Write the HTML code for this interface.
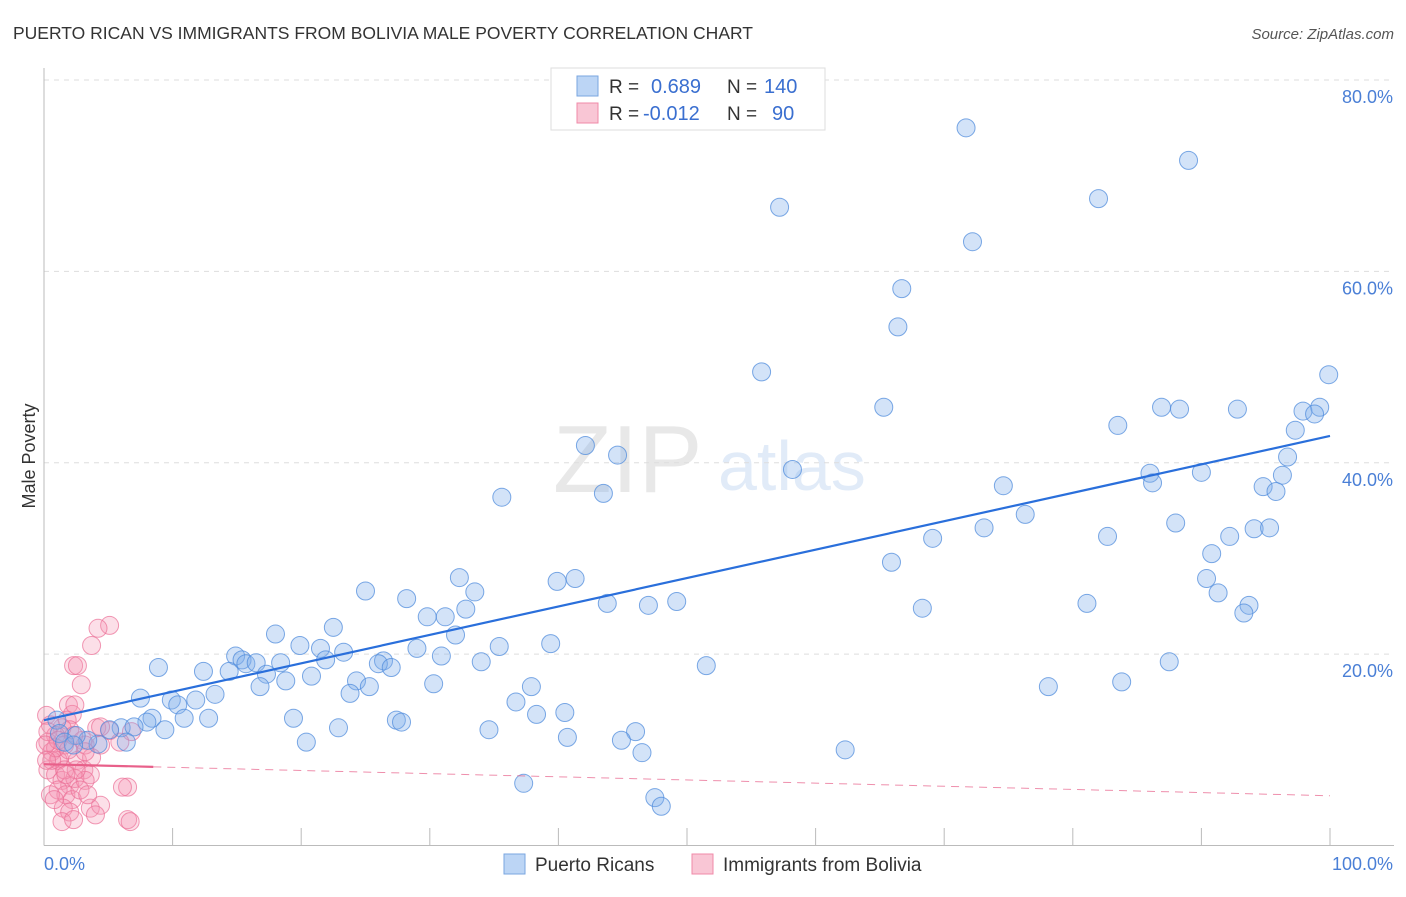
<!DOCTYPE html>
<html><head><meta charset="utf-8"><style>
body{margin:0;background:#fff;font-family:"Liberation Sans",sans-serif}
svg text{font-family:"Liberation Sans",sans-serif}
</style></head><body>
<svg width="1406" height="892" viewBox="0 0 1406 892">
<text x="13" y="39" font-size="17.5" fill="#333">PUERTO RICAN VS IMMIGRANTS FROM BOLIVIA MALE POVERTY CORRELATION CHART</text>
<text x="1394" y="39" font-size="15" fill="#555" font-style="italic" text-anchor="end">Source: ZipAtlas.com</text>
<g opacity="0.22">
<text x="553" y="492" font-size="96" font-family="Liberation Serif,serif" fill="#999">ZIP</text>
<text x="718" y="490" font-size="70" fill="#7aa6e0">atlas</text>
</g>
<g id="grid"></g>
<g id="axes"></g>
<g id="pink"></g>
<g id="blue"></g>
<g id="trends"></g>
<text x="35" y="456" font-size="18" fill="#333" text-anchor="middle" transform="rotate(-90 35 456)">Male Poverty</text>
<g>
<rect x="551" y="68" width="274" height="62" fill="#fff" stroke="#ddd"/>
<rect x="577" y="76" width="21" height="20" fill="#bcd5f5" stroke="#7aa6e0"/>
<rect x="577" y="103" width="21" height="20" fill="#f9c6d5" stroke="#f08aa8"/>
<text x="609" y="93" font-size="19" fill="#333">R =</text>
<text x="651" y="93" font-size="20" fill="#3a6fd0">0.689</text>
<text x="727" y="93" font-size="19" fill="#333">N =</text>
<text x="764" y="93" font-size="20" fill="#3a6fd0">140</text>
<text x="609" y="120" font-size="19" fill="#333">R =</text>
<text x="643" y="120" font-size="20" fill="#3a6fd0">-0.012</text>
<text x="727" y="120" font-size="19" fill="#333">N =</text>
<text x="772" y="120" font-size="20" fill="#3a6fd0">90</text>
</g>
<g>
<rect x="504" y="854" width="21" height="20" fill="#bcd5f5" stroke="#7aa6e0"/>
<text x="535" y="871" font-size="19" fill="#333">Puerto Ricans</text>
<rect x="692" y="854" width="21" height="20" fill="#f9c6d5" stroke="#f08aa8"/>
<text x="723" y="871" font-size="19" fill="#333">Immigrants from Bolivia</text>
</g>
</svg>
<script>
const yTicks=[20,40,60,80];
const yTickLabels=["20.0%","40.0%","60.0%","80.0%"];
const xTicks=[10,20,30,40,50,60,70,80,90,100];
const xEndLabels=["0.0%","100.0%"];
const blueX=[71.7,89.0,57.2,82.0,72.2,66.7,66.4,55.8,99.9,65.3,86.9,88.3,92.8,97.9,99.2,98.8,83.5,97.3,96.7,42.1,44.6,58.2,86.0,90.0,96.3,94.8,86.2,95.8,74.6,35.6,43.5,76.3,88.0,73.1,94.1,95.3,69.1,82.7,92.2,90.8,65.9,25.0,32.3,33.5,39.9,41.3,90.4,91.3,28.2,43.8,47.0,49.2,81.1,93.7,68.3,93.3,32.8,31.2,29.8,18.0,22.5,32.0,19.9,21.5,29.0,35.4,39.4,8.9,14.9,15.4,15.7,16.5,18.4,23.3,21.9,26.4,26.0,30.9,34.0,51.5,87.5,12.4,14.4,17.3,18.8,20.8,24.3,27.0,16.8,23.8,25.3,30.3,37.9,7.5,9.9,10.4,11.8,13.3,78.1,83.8,36.7,8.4,8.0,10.9,12.8,19.4,27.4,27.8,38.3,40.5,9.4,6.0,7.0,5.1,22.9,34.6,46.0,40.7,44.9,20.4,6.4,4.2,3.4,2.5,1.0,1.2,1.6,2.3,62.3,46.5,37.3,47.5,48.0];
const blueY=[75.0,71.6,66.7,67.6,63.1,58.2,54.2,49.5,49.2,45.8,45.8,45.6,45.6,45.4,45.8,45.1,43.9,43.4,40.6,41.8,40.8,39.3,38.9,39.0,38.7,37.5,37.9,37.0,37.6,36.4,36.8,34.6,33.7,33.2,33.1,33.2,32.1,32.3,32.3,30.5,29.6,26.6,28.0,26.5,27.6,27.9,27.9,26.4,25.8,25.3,25.1,25.5,25.3,25.1,24.8,24.3,24.7,23.9,23.9,22.1,22.8,22.0,20.9,20.6,20.6,20.8,21.1,18.6,19.8,19.4,19.0,19.1,19.1,20.2,19.4,19.3,19.0,19.8,19.2,18.8,19.2,18.2,18.2,17.9,17.2,17.7,17.2,18.6,16.6,15.9,16.6,16.9,16.6,15.4,15.2,14.7,15.2,15.8,16.6,17.1,15.0,13.3,12.9,13.3,13.3,13.3,13.1,12.9,13.7,13.9,12.1,12.3,12.4,12.1,12.3,12.1,11.9,11.3,11.0,10.8,10.8,10.6,11.0,11.5,13.1,11.7,10.8,10.5,10.0,9.7,6.5,5.0,4.1];
const pinkX=[5.1,4.2,3.7,2.3,2.6,2.9,1.9,2.2,1.8,2.0,1.4,0.2,0.5,0.9,0.3,0.6,1.2,1.6,2.6,3.1,3.6,0.3,0.9,1.4,2.0,2.4,3.2,1.1,1.7,2.2,2.8,0.5,1.5,2.0,3.6,4.4,4.0,6.5,6.1,6.5,6.7,1.4,2.3,1.1,1.6,0.6,0.9,3.0,4.4,5.1,4.1,2.4,3.2,3.7,0.3,1.1,1.9,2.5,3.2,0.1,0.2,0.8,1.7,3.4,2.3,4.4,6.8,5.9];
const pinkY=[23.0,22.7,20.9,18.8,18.8,16.8,14.7,13.7,13.1,12.1,12.3,13.6,12.6,11.5,10.8,9.8,9.1,10.5,8.9,7.9,7.4,7.9,7.4,6.8,6.3,7.0,6.8,5.8,5.3,4.8,5.8,5.3,3.9,3.5,3.9,4.2,3.2,6.1,6.1,2.7,2.5,2.5,2.7,8.9,7.9,8.9,10.2,11.0,10.5,12.0,12.3,14.7,10.5,9.2,11.9,11.0,10.0,7.9,9.8,10.5,8.9,4.8,7.4,5.3,11.5,12.4,11.9,10.8];
const blueTrend=[13.1,42.8];
const pinkTrend=[8.5,5.2];
const pinkSolidEnd=8.5;

const NS="http://www.w3.org/2000/svg";
const X0=44,X1=1330,Y0=845.5,Y80=80;
function sx(v){return X0+(X1-X0)*v/100;}
function sy(v){return Y0-(Y0-Y80)*v/80;}
function mk(tag,attrs,parent){const e=document.createElementNS(NS,tag);for(const k in attrs)e.setAttribute(k,attrs[k]);parent.appendChild(e);return e;}
const grid=document.getElementById('grid'),axes=document.getElementById('axes');
yTicks.forEach((t,i)=>{
  const l=mk('line',{x1:X0,x2:1394,y1:sy(t),y2:sy(t),stroke:'#ddd','stroke-dasharray':'5,5'},grid);
  
  
  const tx=mk('text',{x:1393,y:sy(t)+23,'font-size':18,fill:'#4a7fd6','text-anchor':'end'},axes);
  tx.textContent=yTickLabels[i];
  
  
});
const la=mk('line',{x1:X0,x2:X0,y1:68,y2:Y0,stroke:'#bbb'},axes);


const lb=mk('line',{x1:X0,x2:1394,y1:Y0,y2:Y0,stroke:'#bbb'},axes);


xTicks.forEach(t=>{
  const l=mk('line',{x1:sx(t),x2:sx(t),y1:828,y2:Y0,stroke:'#bbb'},axes);
  
  
});
const xl0=mk('text',{x:X0,y:870,'font-size':18,fill:'#4a7fd6'},axes);xl0.textContent=xEndLabels[0];


const xl1=mk('text',{x:1393,y:870,'font-size':18,fill:'#4a7fd6','text-anchor':'end'},axes);xl1.textContent=xEndLabels[1];


const pink=document.getElementById('pink'),blue=document.getElementById('blue');
pinkX.forEach((v,i)=>{
  const c=mk('circle',{cx:sx(v),cy:sy(pinkY[i]),r:9,fill:'rgba(245,150,180,0.3)',stroke:'rgba(235,110,150,0.7)','stroke-width':1},pink);
  
  
});
blueX.forEach((v,i)=>{
  const c=mk('circle',{cx:sx(v),cy:sy(blueY[i]),r:9,fill:'rgba(130,175,235,0.35)',stroke:'rgba(80,140,220,0.75)','stroke-width':1},blue);
  
  
});
const tr=document.getElementById('trends');
const bt=mk('line',{x1:sx(0),y1:sy(blueTrend[0]),x2:sx(100),y2:sy(blueTrend[1]),stroke:'#2a6fdb','stroke-width':2.2},tr);


const pm=pinkTrend[0]+(pinkTrend[1]-pinkTrend[0])*pinkSolidEnd/100;
const ps=mk('line',{x1:sx(0),y1:sy(pinkTrend[0]),x2:sx(pinkSolidEnd),y2:sy(pm),stroke:'#e8608a','stroke-width':2.2},tr);


const pd=mk('line',{x1:sx(pinkSolidEnd),y1:sy(pm),x2:sx(100),y2:sy(pinkTrend[1]),stroke:'#e8608a','stroke-width':1,'stroke-dasharray':'8,6',opacity:0.7},tr);


</script>
</body></html>
